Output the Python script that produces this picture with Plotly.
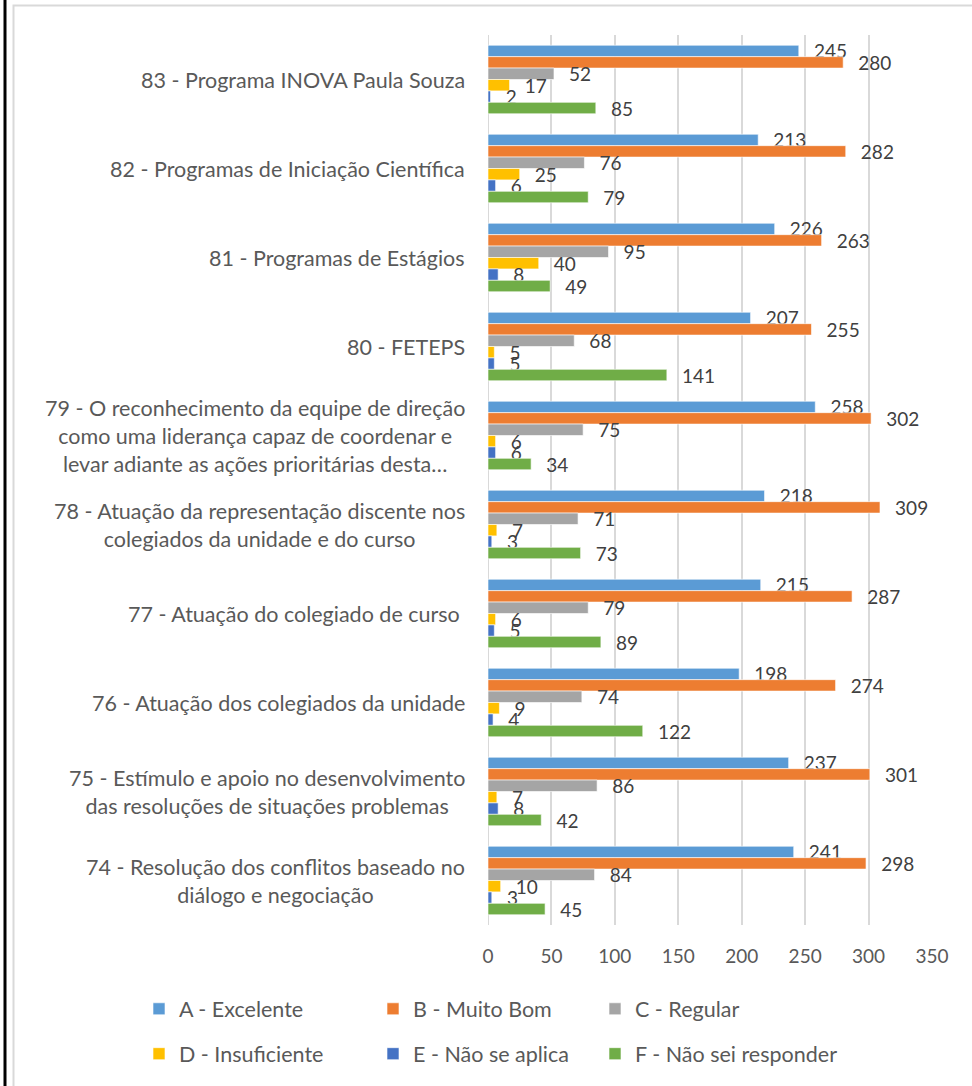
import plotly.graph_objects as go

categories = [
    "83 - Programa INOVA Paula Souza",
    "82 - Programas de Iniciação Científica",
    "81 - Programas de Estágios",
    "80 - FETEPS",
    "79 - O reconhecimento da equipe de direção<br>como uma liderança capaz de coordenar e<br>levar adiante as ações prioritárias desta…",
    "78 - Atuação da representação discente nos<br>colegiados da unidade e do curso",
    "77 - Atuação do colegiado de curso ",
    "76 - Atuação dos colegiados da unidade",
    "75 - Estímulo e apoio no desenvolvimento<br>das resoluções de situações problemas",
    "74 - Resolução dos conflitos baseado no<br>diálogo e negociação",
]

series_names = ["A - Excelente", "B - Muito Bom", "C - Regular",
                "D - Insuficiente", "E - Não se aplica", "F - Não sei responder"]
colors = ["#5B9BD5", "#ED7D31", "#A5A5A5", "#FFC000", "#4472C4", "#70AD47"]

excelente = [245, 213, 226, 207, 258, 218, 215, 198, 237, 241]
muito_bom = [280, 282, 263, 255, 302, 309, 287, 274, 301, 298]
regular = [52, 76, 95, 68, 75, 71, 79, 74, 86, 84]
insuficiente = [17, 25, 40, 5, 6, 7, 6, 9, 7, 10]
nao_se_aplica = [2, 6, 8, 5, 6, 3, 5, 4, 8, 3]
nao_sei = [85, 79, 49, 141, 34, 73, 89, 122, 42, 45]

x_ticks = [0, 50, 100, 150, 200, 250, 300, 350]

all_series = [excelente, muito_bom, regular, insuficiente, nao_se_aplica, nao_sei]

FONT = "Lato"
TXT = 21.5
NUM = 19
W, H = 972, 1086
ML, MR, MT, MB = 488, 40, 35, 159
PW = W - ML - MR
PH = H - MT - MB

def px_x(px):
    return (px - ML) / PW

def px_y(py):
    return (H - MB - py) / PH

# legend slots (pixel positions of the legend boxes, layout only)
legend_slots = [(139, 1011), (373, 1011), (595, 1011),
                (139, 1056), (373, 1056), (595, 1056)]
legend_ids = ["legend", "legend2", "legend3", "legend4", "legend5", "legend6"]

fig = go.Figure()
for i, (name, vals, col) in enumerate(zip(series_names, all_series, colors)):
    fig.add_trace(go.Bar(
        y=categories, x=vals, name=name, orientation="h",
        marker=dict(color=col, line=dict(color="white", width=0.6)),
        text=vals, texttemplate="\u00a0\u00a0\u2009%{x}",
        textposition="outside", constraintext="none", cliponaxis=False,
        textfont=dict(family=FONT, size=NUM, color="#404040"),
        legend=legend_ids[i],
        hoverinfo="skip",
    ))

annotations = []
for c in categories:
    annotations.append(dict(
        x=0, xref="paper", y=c, yref="y", xanchor="right", yanchor="middle",
        xshift=-21, text=c, showarrow=False, align="center",
        font=dict(family=FONT, size=TXT, color="#595959"),
    ))

shapes = [
    dict(type="rect", xref="paper", yref="paper",
         x0=px_x(13.5), x1=px_x(990), y0=px_y(5.5), y1=px_y(1100),
         line=dict(color="#D9D9D9", width=2), fillcolor="rgba(0,0,0,0)", layer="below"),
    dict(type="line", xref="paper", yref="paper",
         x0=px_x(5), x1=px_x(5), y0=px_y(-5), y1=px_y(1100),
         line=dict(color="black", width=3)),
]

legend_layout = {}
for lid, (lx, ly) in zip(legend_ids, legend_slots):
    legend_layout[lid] = dict(
        x=px_x(lx), y=px_y(ly), xanchor="left", yanchor="middle",
        orientation="h", bgcolor="rgba(0,0,0,0)",
        font=dict(family=FONT, size=TXT, color="#595959"),
    )

fig.update_layout(
    width=W, height=H,
    margin=dict(l=ML, r=MR, t=MT, b=MB),
    paper_bgcolor="white", plot_bgcolor="white",
    barmode="group", bargap=0.23, bargroupgap=0,
    font=dict(family=FONT, color="#595959"),
    xaxis=dict(range=[0, 350], tickvals=x_ticks, showgrid=True,
               gridcolor="#D9D9D9", gridwidth=2, zeroline=False,
               showline=False, ticks="", ticklabelstandoff=18,
               tickfont=dict(family=FONT, size=NUM, color="#595959"),
               fixedrange=True),
    yaxis=dict(autorange="reversed", showticklabels=False, showgrid=False,
               zeroline=False, showline=False, ticks="", fixedrange=True),
    annotations=annotations,
    shapes=shapes,
    showlegend=True,
    **legend_layout,
)
fig.add_vline(x=0, line=dict(color="#D9D9D9", width=2), layer="below")

fig.write_html(
    "out.html",
    config={"displayModeBar": False},
    post_script="document.body.style.margin='0';document.body.style.overflow='hidden';",
)
